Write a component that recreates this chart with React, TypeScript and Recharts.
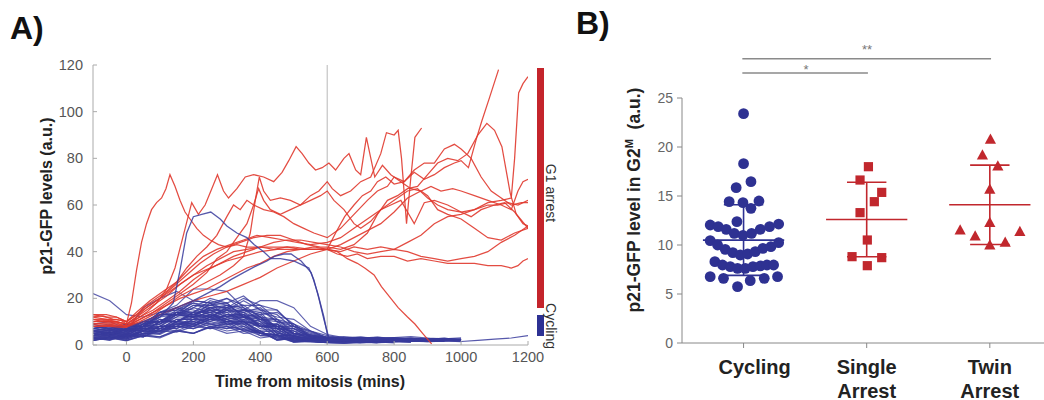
import React from 'react';
import { LineChart, Line, XAxis, YAxis, ReferenceLine, ScatterChart, Scatter } from 'recharts';

const FONT = '"Liberation Sans", Arial, Helvetica, sans-serif';

// ---------- Panel A data ----------
const TIME_TICKS = [0, 200, 400, 600, 800, 1000, 1200];
const LEVEL_TICKS = [0, 20, 40, 60, 80, 100, 120];
const BLUE_T = [-100, -50, 0, 50, 100, 150, 200, 250, 300, 350, 400, 450, 500, 550, 600, 650, 700, 750, 800, 850, 900, 950, 1000];

const blueTraces: number[][] = [
  [5, 6.5, 5, 9, 10, 15, 14, 19, 17, 16, 10, 8, 3.5, 3, 2.2, 2.6, 2.0, 2.4, 1.8],
  [3, 4.5, 3, 7, 8, 13, 12, 18, 15, 14, 8, 7, 2.8, 3.2, 2.1, 1.6, 2.2, 2.8, 2.4, 1.7, 2.2],
  [8, 6.5, 8, 7.5, 13, 13, 19, 18, 20, 15, 14, 7, 6, 2.5, 3.0, 2.6, 2.1, 2.5, 3.0, 2.2, 1.9, 2.4],
  [4, 5.5, 4, 8, 9, 14, 12, 14, 9, 9, 4, 3.5, 1.2, 2.0, 1.6, 2.1, 2.5, 1.9],
  [6, 5, 7, 7, 11, 10, 14, 12, 16, 12, 13, 7, 7, 3.4, 2.8, 2.2, 2.6, 3.1, 2.4, 2.0, 2.5, 2.9, 2.2],
  [2, 3.5, 2.5, 5, 5, 9, 9, 13, 11, 13, 8, 8, 3, 2.6, 1.9, 1.5, 2.0, 1.7, 1.3],
  [9, 7, 9, 9, 14, 15, 18, 15, 15, 10, 9, 4, 4, 2.0, 2.5, 2.9, 2.3, 1.8, 2.1, 1.6],
  [3, 2.5, 5, 4, 8, 8, 12, 12, 16, 14, 16, 10, 9, 3.5, 2.7, 3.1, 3.4, 2.6, 2.2, 2.7, 2.3, 1.9],
  [5, 6, 4.5, 7, 7, 11, 11, 13, 10, 10, 5, 4.5, 1.8, 1.9, 1.4, 1.8, 2.2, 1.6],
  [7, 8, 5.5, 9, 10, 14, 14, 17, 16, 17, 12, 11, 5, 4.0, 3.2, 3.6, 3.0, 3.4, 2.7, 3.1, 2.6, 2.9, 2.4],
  [2.5, 4, 3, 6, 6, 10, 9, 12, 9, 9, 5, 4.5, 1.3, 1.6, 1.1, 1.4, 0.9, 1.2, 1.5],
  [6, 5, 8, 8, 13, 13, 17, 17, 18, 12, 11, 5, 4, 2.2, 1.8, 2.3, 1.7, 1.4, 1.9, 1.5, 1.8],
  [4, 5.5, 4.5, 7, 7, 11, 11, 15, 15, 19, 15, 15, 8, 5.5, 3.0, 2.4, 2.8, 2.2, 2.6, 2.9, 2.3, 2.0, 2.4],
  [3, 2, 4.5, 3.5, 7, 6, 9, 7, 8, 5, 5.5, 2.2, 2.8, 1.6, 1.2, 1.5, 1.0],
  [8, 9, 6.5, 10, 10, 13, 12, 14, 11, 12, 8, 8, 3.5, 2.8, 2.2, 1.9, 2.4, 2.0, 1.6, 2.1, 1.8, 2.3],
  [5, 4, 7, 6, 10, 10, 14, 14, 17, 15, 15, 10, 8, 3.4, 2.9, 2.4, 2.8, 2.3, 2.7, 2.1],
  [2, 3, 2, 4, 3.5, 6, 5, 8, 6, 7, 4, 4.5, 1.5, 1.4, 1.0, 0.8, 1.2, 0.9],
  [6, 7.5, 6, 10, 10, 14, 13, 16, 13, 13, 8, 7, 2.5, 2.6, 2.0, 1.7, 2.2, 1.8, 1.4, 1.9, 1.6],
  [4, 3, 5, 4.5, 8, 8, 11, 10, 13, 11, 12, 8, 7, 3.3, 2.6, 2.0, 2.4, 1.9, 2.3, 2.7, 2.1, 1.7, 2.0],
  [7, 6, 9, 9, 14, 15, 19, 18, 18, 12, 10, 4, 4, 2.1, 1.6, 1.9, 1.4, 1.8, 1.3],
  [3.5, 4.5, 3, 6, 5.5, 9, 8, 11, 10, 12, 9, 9, 4.5, 3.6, 2.8, 2.3, 2.7, 3.0, 2.5, 2.2],
  [5, 4, 6, 5, 8, 7, 10, 8, 9, 6, 6, 2.5, 3, 1.6, 1.2, 1.6, 1.3, 1.0, 1.4, 1.1],
  [9, 10, 7, 10, 10, 14, 13, 15, 12, 12, 7, 6, 2.2, 2.4, 1.9, 2.3, 1.8, 1.5, 2.0, 1.7, 1.4, 1.8],
  [2, 3.5, 2.5, 5, 4.5, 8, 8, 12, 12, 15, 13, 14, 9, 6.0, 3.2, 2.6, 2.2, 2.7, 3.1, 2.5, 2.9, 2.3, 2.6],
  [6, 5, 7, 6, 10, 10, 13, 11, 11, 7, 6, 2.2, 2.6, 1.5, 1.1, 0.9, 1.3, 1.0, 1.2],
  [4, 5.5, 4, 8, 9, 13, 13, 16, 14, 15, 11, 10, 4.5, 3.5, 2.6, 2.1, 2.5, 2.0, 1.7, 2.1],
  [3, 2.2, 4, 3.5, 6, 5.5, 8, 7, 10, 9, 11, 8, 8, 3.8, 3.0, 2.5, 2.9, 2.4, 2.8, 2.2, 2.6, 2.0],
  [7, 8.5, 6, 9, 9, 13, 12, 13, 10, 10, 6, 5.5, 2, 2.2, 1.7, 1.3, 1.8, 1.4],
  [5, 4, 6.5, 6, 10, 10, 13, 12, 15, 12, 12, 7, 6, 2.6, 2.2, 1.8, 2.3, 1.9, 1.5, 2.0, 1.6, 2.1, 1.7],
  [2.5, 3.5, 2, 4.5, 3.5, 6.5, 5, 7.5, 5, 6, 3, 4, 1.2, 1.5, 1.0, 0.7, 1.0, 1.3, 0.9],
  [6, 5, 8, 8, 13, 14, 18, 17, 20, 17, 17, 11, 9, 4.2, 3.5, 3.0, 3.4, 2.8, 3.2, 3.6, 3.0, 2.6, 3.1],
  [4, 5, 3.5, 6.5, 6, 9.5, 8.5, 11, 9, 10, 6, 6, 2, 2.4, 1.8, 2.2, 1.6, 2.0, 1.5, 1.9, 1.4, 1.7],
  [8, 7, 9, 8, 11, 10, 12, 9, 10, 6, 6, 2, 3, 1.6, 1.2, 1.5, 1.1, 1.4],
  [3, 4, 2.5, 6, 6, 10, 10, 13, 12, 14, 11, 11, 6, 4.5, 3.1, 2.5, 2.9, 2.3, 2.7, 2.1, 2.5, 2.9, 2.4],
  [5, 4, 7, 7, 12, 13, 17, 16, 17, 13, 12, 6, 5, 2.8, 2.1, 2.5, 2.0, 2.4, 1.9, 2.2],
  [6, 7, 5, 8, 7, 10, 9, 12, 10, 11, 8, 8, 3.5, 3.0, 2.2, 1.8, 2.2, 1.7, 2.1, 1.6, 2.0, 1.6],
  [2, 3, 1.8, 4, 3, 6, 5, 8, 7, 10, 8, 9, 5, 4.0, 2.4, 1.8, 1.5, 1.9, 1.6, 2.0, 1.5, 1.8, 1.4],
  [7, 6, 8.5, 8, 13, 13, 16, 14, 14, 9, 8, 3, 3.5, 2.0, 1.5, 1.9, 1.4],
  [4, 5, 3.5, 6, 5, 8, 7, 10, 8.5, 10.5, 8, 9, 5, 4.4, 2.8, 2.3, 2.7, 2.2, 1.9, 2.4, 2.0, 2.5, 2.1],
  [3, 2.5, 4.5, 3.5, 7, 7, 11, 11, 15, 15, 19, 19, 16, 8, 4.5, 3.2, 2.8, 3.3, 2.9, 2.5],
  [5, 6.5, 5, 8, 8, 12, 12, 16, 16, 20, 17, 15, 8, 6, 3.0, 2.4, 2.9, 2.5, 3.0, 2.6, 2.2, 2.7],
  [5, 4, 7, 8, 14, 17, 24, 24, 23, 16, 12, 5, 4, 1.8, 1.4, 2.0, 1.6],
  [6, 7, 6, 16, 20, 23, 19, 18, 12, 10, 5, 4.5, 1.8, 1.4, 1.1, 1.6],
  [22, 19, 13, 12, 14, 16, 15, 13, 11, 8, 5, 3, 2, 1.6, 1.4, 1.6, 1.3],
  [4, 5, 3.5, 6, 9, 12, 16, 20, 18, 21, 15, 13, 7, 5, 3.2, 2.7, 3.1, 2.5, 2.9, 2.4],
  [3, 2.5, 3.5, 5, 6, 9, 8, 11, 13, 12, 14, 12, 11, 6, 4.0, 2.9, 2.4, 2.8, 2.3, 2.6, 2.1, 2.5, 2.2],
  [7, 8, 6, 7, 6, 8, 7, 9, 7, 8, 5, 4, 1.5, 1.7, 1.3, 1.0, 1.4, 1.1, 1.5, 1.2],
  [5, 4, 5.5, 9, 12, 16, 13, 15, 12, 13, 9, 9, 4, 3.2, 2.4, 1.9, 2.3, 1.8, 1.5],
];

const blueLong: [number, number][] = [
  [-100, 3], [0, 4], [100, 8], [200, 10], [300, 8], [400, 5], [500, 3], [600, 2], [700, 1.8], [800, 2],
  [900, 1.5], [950, 2], [1000, 1.5], [1050, 2], [1100, 2.5], [1150, 3], [1200, 4],
];
const bluePeak56: [number, number][] = [
  [-100, 4], [-50, 4], [0, 5], [50, 8], [100, 12], [140, 18], [160, 32], [180, 48], [200, 55], [225, 56],
  [252, 57], [280, 54], [300, 51], [330, 48], [360, 46], [382, 43], [410, 40], [432, 37], [460, 37],
  [500, 36], [530, 34], [545, 33], [560, 28], [575, 20], [590, 11], [605, 3], [650, 2.5], [700, 2],
  [750, 2.2], [800, 1.8],
];
const bluePeak39: [number, number][] = [
  [-100, 6], [-50, 6], [0, 7], [50, 10], [100, 13], [150, 16], [200, 19], [240, 22], [280, 25], [312, 28],
  [350, 31], [382, 33.5], [420, 36], [442, 38], [470, 39], [492, 39], [522, 36], [552, 31], [572, 22],
  [590, 12], [602, 3.5], [650, 2.5], [700, 2.2], [800, 2],
];

const redTraces: [number, number][][] = [
  [[-100, 12], [-70, 12.5], [-40, 11], [-15, 10.5], [0, 9], [15, 18], [30, 32], [45, 44], [60, 52], [75, 58], [90, 61], [105, 63], [118, 67], [130, 73], [145, 68], [160, 62], [175, 57], [190, 54], [210, 50], [230, 47], [250, 45], [275, 43], [300, 42], [330, 43], [360, 42], [400, 42], [440, 41], [480, 42], [520, 41], [560, 42], [600, 41], [630, 39], [660, 38], [690, 39], [720, 37], [760, 38], [800, 38], [840, 36], [880, 37], [920, 36], [960, 35], [1000, 35], [1040, 35], [1080, 34], [1120, 34], [1150, 33], [1170, 34], [1185, 36], [1200, 37]],
  [[-100, 10], [-60, 10], [-30, 9.5], [0, 8], [30, 11], [60, 14], [90, 18], [120, 24], [145, 33], [170, 47], [195, 61], [215, 56], [235, 60], [255, 67], [272, 73], [290, 66], [305, 63], [330, 67], [355, 72], [380, 73], [410, 72], [440, 70], [465, 74], [485, 79], [507, 85], [525, 82], [545, 78], [565, 75], [585, 76], [605, 78], [625, 75], [650, 80], [665, 82], [685, 75], [700, 73], [717, 89], [742, 72], [765, 77], [790, 73], [820, 70], [850, 67], [880, 66], [910, 68], [940, 66], [975, 67], [1000, 66], [1040, 64], [1080, 62], [1120, 60], [1150, 58], [1170, 66], [1185, 70], [1200, 71]],
  [[-100, 9], [-60, 9.5], [-25, 9], [0, 8], [40, 11], [80, 14], [120, 18], [160, 22], [200, 26], [240, 31], [270, 37], [300, 40], [330, 46], [360, 52], [380, 60], [395, 67], [410, 62], [430, 58], [460, 56], [490, 58], [520, 60], [550, 64], [575, 66], [600, 70], [615, 67], [640, 64], [670, 66], [700, 70], [730, 72], [760, 82], [777, 91], [800, 90], [812, 92], [822, 80], [837, 52], [850, 72], [862, 89], [882, 93]],
  [[-100, 13], [-60, 12], [-30, 12], [0, 10], [40, 14], [80, 18], [120, 22], [160, 26], [200, 30], [250, 33], [300, 36], [350, 38], [400, 40], [450, 41], [500, 41], [550, 41], [600, 41], [625, 48], [652, 55], [680, 60], [705, 64], [730, 66], [750, 70], [775, 72], [800, 69], [830, 70], [860, 74], [890, 71], [920, 73], [950, 76], [980, 78], [1000, 79], [1022, 76], [1045, 88], [1062, 96], [1085, 106], [1112, 118]],
  [[-100, 11], [-70, 10], [-35, 10], [0, 9], [30, 12], [60, 16], [100, 20], [140, 25], [180, 30], [220, 35], [260, 39], [300, 42], [340, 44], [380, 46], [420, 47], [460, 47], [500, 45], [540, 43], [580, 42], [600, 42], [640, 41], [680, 43], [720, 48], [750, 56], [780, 62], [810, 64], [840, 67], [870, 68], [900, 73], [930, 78], [960, 80], [990, 79], [1020, 82], [1050, 90], [1077, 95], [1100, 92], [1122, 85], [1147, 65], [1165, 56], [1185, 52], [1200, 51]],
  [[-100, 8], [-50, 8.5], [0, 8], [40, 10], [80, 13], [120, 17], [160, 21], [200, 24], [240, 27], [280, 30], [320, 34], [350, 38], [370, 48], [385, 62], [397, 72], [410, 66], [430, 62], [460, 63], [490, 62], [520, 60], [550, 62], [580, 64], [600, 66], [620, 62], [650, 58], [680, 52], [700, 50], [730, 53], [760, 58], [790, 60], [820, 62], [840, 57], [860, 52], [890, 61], [920, 62], [960, 60], [1000, 57], [1030, 55], [1060, 58], [1100, 60], [1130, 61], [1160, 57], [1200, 50]],
  [[-100, 12], [-60, 11], [-30, 11], [0, 10], [30, 14], [70, 19], [110, 23], [150, 27], [190, 33], [230, 38], [270, 41], [310, 43], [350, 45], [390, 47], [430, 46], [470, 45], [510, 44], [550, 43], [600, 44], [640, 46], [680, 50], [720, 54], [760, 58], [800, 62], [840, 66], [870, 67], [900, 63], [930, 60], [960, 58], [1000, 57], [1040, 58], [1080, 61], [1120, 62], [1150, 63], [1160, 80], [1172, 108], [1185, 112], [1200, 115]],
  [[-100, 9], [-60, 9], [-25, 8.5], [0, 8], [40, 11], [80, 14], [120, 17], [160, 20], [200, 22], [240, 24], [280, 27], [320, 30], [360, 33], [400, 35], [440, 38], [480, 40], [520, 41], [560, 41], [600, 41], [630, 40], [660, 37], [690, 35], [712, 33], [740, 30], [762, 25], [790, 20], [812, 16], [840, 12], [862, 9], [885, 5], [912, 0.5]],
  [[-100, 10], [-60, 10.5], [-30, 10], [0, 9], [40, 13], [80, 17], [120, 21], [160, 26], [200, 30], [240, 34], [280, 37], [320, 40], [360, 41], [400, 42], [450, 42], [500, 42], [550, 41], [600, 41], [640, 40], [680, 42], [720, 41], [760, 42], [800, 41], [840, 44], [880, 47], [920, 52], [960, 55], [1000, 56], [1040, 58], [1080, 60], [1110, 60], [1140, 61], [1170, 60], [1200, 62]],
  [[-100, 11], [-60, 11], [-30, 10], [0, 9], [40, 12], [80, 15], [120, 19], [160, 23], [200, 28], [240, 32], [280, 35], [320, 38], [360, 40], [400, 42], [440, 44], [480, 45], [520, 45], [560, 44], [600, 43], [640, 42], [680, 40], [720, 39], [760, 40], [800, 41], [840, 40], [880, 38], [920, 37], [960, 36], [1000, 37], [1040, 38], [1080, 40], [1120, 44], [1160, 47], [1200, 51]],
  [[-100, 13], [-60, 13], [-30, 12], [0, 10], [30, 13], [60, 17], [90, 20], [120, 23], [150, 27], [180, 33], [210, 38], [240, 42], [270, 47], [300, 55], [320, 60], [340, 58], [360, 62], [380, 60], [410, 58], [440, 57], [470, 55], [500, 52], [530, 50], [560, 48], [600, 46], [640, 50], [680, 56], [720, 62], [750, 66], [780, 68], [800, 72], [830, 70], [860, 75], [890, 78], [920, 78], [950, 84], [980, 86], [1000, 84], [1030, 80], [1060, 72], [1090, 66], [1120, 63], [1150, 60], [1180, 61], [1200, 61]],
  [[-100, 8], [-50, 8], [0, 7.5], [50, 10], [100, 13], [150, 16], [200, 19], [250, 21], [300, 23], [350, 26], [400, 29], [450, 33], [500, 36], [550, 39], [600, 41], [640, 43], [680, 46], [720, 49], [760, 52], [800, 57], [840, 63], [880, 66], [900, 64], [930, 58], [960, 56], [1000, 54], [1040, 50], [1080, 46], [1120, 45], [1160, 48], [1200, 50]],
];

// ---------- Panel B data ----------
const GROUP_LABELS = [['Cycling'], ['Single', 'Arrest'], ['Twin', 'Arrest']];
const B_TICKS = [0, 5, 10, 15, 20, 25];
// [offset from group centre, value]
const cyclingPoints: [number, number][] = [
  [0, 23.4], [0, 18.3], [-0.06, 15.85], [0.06, 16.46], [-0.117, 14.42], [-0.005, 14.32], [0.06, 13.74], [0.125, 14.49], [-0.054, 12.38],
  [-0.271, 12.04], [-0.206, 11.87], [-0.141, 11.6], [-0.076, 11.19], [-0.005, 10.99], [0.065, 11.19], [0.136, 11.6], [0.211, 11.87], [0.285, 12.14],
  [-0.271, 10.44], [-0.211, 10.0], [-0.149, 9.56], [-0.087, 9.22], [-0.027, 8.98], [0.033, 9.08], [0.095, 9.32], [0.157, 9.66], [0.222, 9.83], [0.285, 10.24],
  [-0.233, 8.3], [-0.171, 7.96], [-0.108, 7.79], [-0.049, 7.62], [0.014, 7.62], [0.076, 7.79], [0.136, 7.86], [0.19, 7.96], [0.244, 7.96],
  [-0.271, 6.77], [-0.163, 6.6], [-0.049, 5.75], [0.054, 6.36], [0.168, 6.6], [0.276, 6.77],
];
const singlePoints: [number, number][] = [
  [0.014, 17.99], [-0.054, 16.63], [0.122, 15.37], [0.062, 14.42], [-0.054, 13.3], [0.005, 10.51], [-0.119, 8.81], [0.122, 8.71], [0.005, 7.89],
];
const twinPoints: [number, number][] = [
  [0.005, 20.78], [-0.06, 19.18], [0.065, 18.06], [0, 15.68], [0, 12.28], [-0.241, 11.53], [-0.119, 10.92], [0.244, 11.36], [0, 10.0], [0.125, 10.27],
];
const groupMeans = [10.5, 12.6, 14.1];
const groupSD = [3.6, 3.8, 4.05];
// significance brackets: [from group, to group, label, level]
const sigBrackets: [number, number, string, number][] = [
  [0, 2, '**', 29.0],
  [0, 1, '*', 27.55],
];

const BLUE_LINE = '#383b9c';
const RED_LINE = '#e0392e';
const BLUE_DOT = '#2e3192';
const RED_DOT = '#c1272d';

const toXY = (pairs: [number, number][]) => pairs.map(([t, v]) => ({ t, v }));
const blueData = blueTraces.map((vals) => vals.map((v, i) => ({ t: BLUE_T[i], v })));
const redData = redTraces.map(toXY);
const blueSpecialData = [toXY(bluePeak56), toXY(bluePeak39)];

const toPts = (pairs: [number, number][], g: number) => pairs.map(([dx, y]) => ({ x: g + dx, y }));

const GroupTick = (props: any) => {
  const { x, y, payload } = props;
  const lines = GROUP_LABELS[payload.value] || [];
  const shift = payload.value === 0 ? 11 : 0;
  return (
    <text x={x + shift} y={y} textAnchor="middle" fontFamily={FONT} fontWeight="bold" fontSize={20} fill="#222">
      {lines.map((l, i) => (
        <tspan key={i} x={x + shift} dy={i === 0 ? 24 : 23.5}>{l}</tspan>
      ))}
    </text>
  );
};

const circleShape = (p: any) => <circle cx={p.cx} cy={p.cy} r={5.4} fill={BLUE_DOT} />;
const squareShape = (p: any) => <rect x={p.cx - 4.6} y={p.cy - 4.6} width={9.2} height={9.2} fill={RED_DOT} />;
const triShape = (p: any) => (
  <path d={`M${p.cx},${p.cy - 5.8} L${p.cx - 5.6},${p.cy + 4.4} L${p.cx + 5.6},${p.cy + 4.4} Z`} fill={RED_DOT} />
);

export default function App() {
  const tickA = { fill: '#555', fontSize: 14.5, fontFamily: FONT };
  const tickB = { fill: '#666', fontSize: 14, fontFamily: FONT };
  return (
    <div style={{ position: 'absolute', left: 0, top: 0, width: 1044, height: 400, background: '#fff', overflow: 'hidden' }}>
      <div style={{ position: 'absolute', left: 0, top: 0 }}>
        <LineChart width={560} height={400} margin={{ top: 65, right: 32, bottom: 25, left: 33 }}>
          <XAxis
            type="number" dataKey="t" domain={[-100, 1200]} ticks={TIME_TICKS} allowDataOverflow height={30}
            tickSize={-4} tickMargin={11} tick={tickA} axisLine={{ stroke: '#aaa' }} tickLine={{ stroke: '#aaa' }} interval={0}
          />
          <YAxis
            type="number" dataKey="v" domain={[0, 120]} ticks={LEVEL_TICKS} allowDataOverflow width={60}
            tickSize={-4} tickMargin={14} tick={tickA} axisLine={{ stroke: '#aaa' }} tickLine={{ stroke: '#aaa' }} interval={0}
          />
          <ReferenceLine x={600} stroke="#c4c4c4" strokeWidth={1.2} />
          {blueData.map((d, i) => (
            <Line key={'b' + i} data={d} dataKey="v" type="linear" stroke={BLUE_LINE} strokeOpacity={0.8} strokeWidth={1.2} dot={false} isAnimationActive={false} />
          ))}
          <Line key="blong" data={toXY(blueLong)} dataKey="v" type="linear" stroke={BLUE_LINE} strokeOpacity={0.85} strokeWidth={1.2} dot={false} isAnimationActive={false} />
          {redData.map((d, i) => (
            <Line key={'r' + i} data={d} dataKey="v" type="linear" stroke={RED_LINE} strokeOpacity={0.9} strokeWidth={1.25} dot={false} isAnimationActive={false} />
          ))}
          {blueSpecialData.map((d, i) => (
            <Line key={'bs' + i} data={d} dataKey="v" type="linear" stroke={BLUE_LINE} strokeOpacity={0.85} strokeWidth={1.3} dot={false} isAnimationActive={false} />
          ))}
        </LineChart>
      </div>

      <div style={{ position: 'absolute', left: 560, top: 0 }}>
        <ScatterChart width={484} height={400} margin={{ top: 98, right: 0, bottom: 7, left: 72 }}>
          <XAxis
            type="number" dataKey="x" domain={[-0.5, 2.44]} ticks={[0, 1, 2]} allowDataOverflow height={50}
            tickSize={5} tickMargin={2} tick={<GroupTick />} axisLine={{ stroke: '#888' }} tickLine={{ stroke: '#888' }} interval={0}
          />
          <YAxis
            type="number" dataKey="y" domain={[0, 25]} ticks={B_TICKS} allowDataOverflow width={50}
            tickSize={5} tickMargin={4} tick={tickB} axisLine={{ stroke: '#888' }} tickLine={{ stroke: '#888' }} interval={0}
          />
          <Scatter data={toPts(cyclingPoints, 0)} shape={circleShape} isAnimationActive={false} />
          <Scatter data={toPts(singlePoints, 1)} shape={squareShape} isAnimationActive={false} />
          <Scatter data={toPts(twinPoints, 2)} shape={triShape} isAnimationActive={false} />
          {groupMeans.map((m, g) => {
            const c = g === 0 ? BLUE_DOT : RED_DOT;
            const sd = groupSD[g];
            return (
              <React.Fragment key={'eb' + g}>
                <ReferenceLine segment={[{ x: g - 0.33, y: m }, { x: g + 0.33, y: m }]} stroke={c} strokeWidth={1.6} ifOverflow="visible" />
                <ReferenceLine segment={[{ x: g, y: m - sd }, { x: g, y: m + sd }]} stroke={c} strokeWidth={1.6} ifOverflow="visible" />
                <ReferenceLine segment={[{ x: g - 0.16, y: m + sd }, { x: g + 0.16, y: m + sd }]} stroke={c} strokeWidth={1.6} ifOverflow="visible" />
                <ReferenceLine segment={[{ x: g - 0.16, y: m - sd }, { x: g + 0.16, y: m - sd }]} stroke={c} strokeWidth={1.6} ifOverflow="visible" />
              </React.Fragment>
            );
          })}
          {sigBrackets.map(([a, b, , y], i) => (
            <ReferenceLine key={'sig' + i} segment={[{ x: a - 0.01, y }, { x: b + 0.01, y }]} stroke="#8a8a8a" strokeWidth={1.5} ifOverflow="visible" />
          ))}
        </ScatterChart>
      </div>

      <svg width={1044} height={400} style={{ position: 'absolute', left: 0, top: 0, pointerEvents: 'none' }} fontFamily={FONT}>
        <text x={10} y={39} fontSize={32} fontWeight="bold" fill="#111">A)</text>
        <text x={576} y={34} fontSize={32} fontWeight="bold" fill="#111">B)</text>

        <text x={310} y={387} textAnchor="middle" fontSize={16} fontWeight="bold" fill="#222">Time from mitosis (mins)</text>
        <text x={52} y={196} textAnchor="middle" fontSize={16} fontWeight="bold" fill="#222" transform="rotate(-90 52 196)">p21-GFP levels (a.u.)</text>

        <text x={640} y={200} textAnchor="middle" fontSize={17.5} fontWeight="bold" fill="#222" transform="rotate(-90 640 200)">
          p21-GFP level in G2<tspan dy={-7} fontSize={11}>M</tspan><tspan dy={7}>{'\u00a0\u00a0(a.u.)'}</tspan>
        </text>

        <rect x={537} y={68} width={7} height={240} fill="#c4242b" />
        <rect x={537} y={315} width={7} height={21} fill="#2d3193" />
        <text x={546} y={193} textAnchor="middle" fontSize={14} fill="#333" transform="rotate(90 546 193)">G1 arrest</text>
        <text x={546} y={326} textAnchor="middle" fontSize={14} fill="#333" transform="rotate(90 546 326)">Cycling</text>

        <text x={867} y={54} textAnchor="middle" fontSize={13} fill="#777">{sigBrackets[0][2]}</text>
        <text x={806} y={74} textAnchor="middle" fontSize={13} fill="#777">{sigBrackets[1][2]}</text>
      </svg>
    </div>
  );
}
